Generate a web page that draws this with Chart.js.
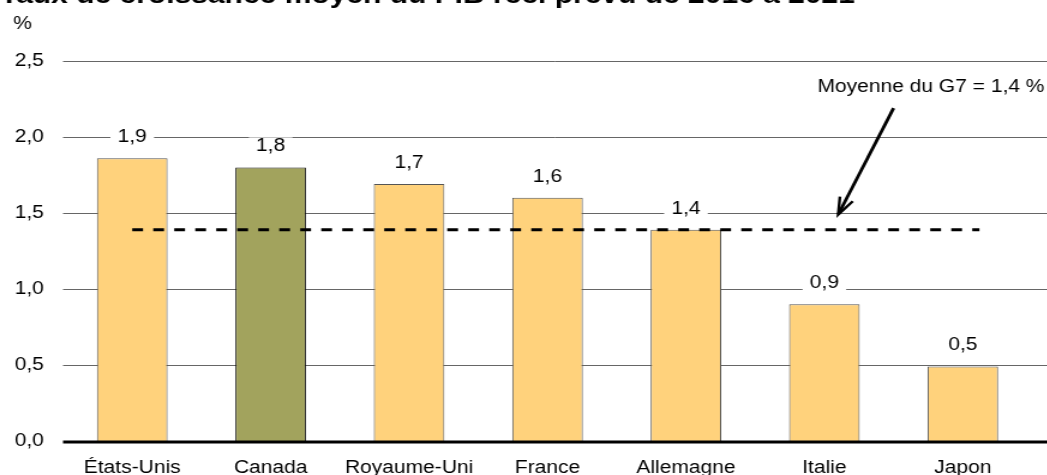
<!DOCTYPE html>
<html>
<head>
<meta charset="utf-8">
<script src="https://cdn.jsdelivr.net/npm/chart.js@4/dist/chart.umd.min.js"></script>
<style>
  html, body { margin: 0; padding: 0; background: #fff; overflow: hidden; }
  #wrap { position: absolute; left: 0; top: 0; width: 873px; height: 475px;
          transform: scaleX(1.2); transform-origin: 0 0; }
</style>
</head>
<body>
<div id="wrap"><canvas id="growthChart"></canvas></div>
<script>
  // data
  const categories = ['États-Unis', 'Canada', 'Royaume-Uni', 'France', 'Allemagne', 'Italie', 'Japon'];
  const growth = [1.86, 1.80, 1.69, 1.60, 1.39, 0.90, 0.49];
  const growthLabels = ['1,9', '1,8', '1,7', '1,6', '1,4', '0,9', '0,5'];
  const yTicks = [0, 0.5, 1.0, 1.5, 2.0, 2.5];
  const g7Average = 1.39;
  const g7Text = 'Moyenne du G7 = 1,4 %';
  const titleText = 'Taux de croissance moyen du PIB réel prévu de 2016 à 2021';
  const highlight = 'Canada';

  const FONT = '"Liberation Sans", Arial, sans-serif';
  const SIZE = 17.5;
  const yellow = '#FFD27C';
  const olive = '#A2A35D';

  const barColors = categories.map(c => c === highlight ? olive : yellow);
  const barBorders = categories.map(c => c === highlight ? '#111' : '#555');

  // position helper in data units (fractional category index)
  function catX(x, idx) {
    const w = x.getPixelForValue(1) - x.getPixelForValue(0);
    return x.getPixelForValue(Math.floor(idx)) + (idx - Math.floor(idx)) * w;
  }

  const decor = {
    id: 'decor',
    beforeDatasetsDraw(chart) {
      const { ctx, chartArea, scales: { y } } = chart;
      ctx.save();
      ctx.strokeStyle = '#666';
      ctx.lineWidth = 1;
      yTicks.forEach(v => {
        if (v === 0) return;
        const py = Math.round(y.getPixelForValue(v)) + 0.5;
        ctx.beginPath();
        ctx.moveTo(chartArea.left, py);
        ctx.lineTo(chart.width, py);
        ctx.stroke();
      });
      ctx.restore();
    },
    afterDatasetsDraw(chart) {
      const { ctx, chartArea, scales: { x, y } } = chart;
      ctx.save();

      // zero axis
      ctx.strokeStyle = '#000';
      ctx.lineWidth = 3;
      const y0 = y.getPixelForValue(0) + 1;
      ctx.beginPath();
      ctx.moveTo(chartArea.left, y0);
      ctx.lineTo(chart.width, y0);
      ctx.stroke();

      // G7 average dashed line
      const ya = y.getPixelForValue(g7Average);
      ctx.lineWidth = 3;
      ctx.setLineDash([9, 8.5]);
      ctx.beginPath();
      ctx.moveTo(catX(x, 0), ya);
      ctx.lineTo(catX(x, 6.12), ya);
      ctx.stroke();
      ctx.setLineDash([]);

      // value labels with white boxes
      ctx.font = SIZE + 'px ' + FONT;
      ctx.textAlign = 'center';
      ctx.textBaseline = 'middle';
      growth.forEach((v, i) => {
        const px = x.getPixelForValue(i);
        const py = y.getPixelForValue(v) - 21;
        const w = ctx.measureText(growthLabels[i]).width + 12;
        ctx.fillStyle = '#fff';
        ctx.fillRect(px - w / 2, py - 9, w, 18);
        ctx.fillStyle = '#000';
        ctx.fillText(growthLabels[i], px, py);
      });

      // annotation text and arrow
      ctx.fillText(g7Text, catX(x, 5.77), y.getPixelForValue(2.33));
      const tx = catX(x, 5.5), ty = y.getPixelForValue(2.19);
      const hx = catX(x, 5.1), hy = y.getPixelForValue(1.49);
      ctx.strokeStyle = '#000';
      ctx.lineWidth = 2.8;
      ctx.beginPath();
      ctx.moveTo(tx, ty);
      ctx.lineTo(hx, hy);
      ctx.stroke();
      const ang = Math.atan2(hy - ty, hx - tx);
      const len = 18, spread = 0.33;
      ctx.lineWidth = 2.4;
      ctx.beginPath();
      ctx.moveTo(hx - len * Math.cos(ang - spread), hy - len * Math.sin(ang - spread));
      ctx.lineTo(hx, hy);
      ctx.lineTo(hx - len * Math.cos(ang + spread), hy - len * Math.sin(ang + spread));
      ctx.stroke();

      // title (cut at top) and unit
      ctx.textAlign = 'left';
      ctx.textBaseline = 'alphabetic';
      ctx.font = 'bold 25px ' + FONT;
      ctx.fillText(titleText, 0, 3);
      ctx.font = SIZE + 'px ' + FONT;
      ctx.fillText('%', 11, 29);
      ctx.restore();
    }
  };

  const ctxEl = document.getElementById('growthChart');
  const growthChart = new Chart(ctxEl, {
    type: 'bar',
    data: {
      labels: categories,
      datasets: [{
        data: growth,
        backgroundColor: barColors,
        borderColor: barBorders,
        borderWidth: 1,
        barPercentage: 0.51,
        categoryPercentage: 1
      }]
    },
    options: {
      responsive: true,
      maintainAspectRatio: false,
      animation: false,
      layout: { padding: { top: 61, right: 13, left: 0, bottom: 0 } },
      plugins: {
        legend: { display: false },
        tooltip: { enabled: false },
        title: { display: false }
      },
      scales: {
        x: {
          grid: { display: false, drawTicks: false },
          border: { display: false },
          ticks: { color: '#000', font: { family: FONT, size: SIZE }, padding: 17, maxRotation: 0, autoSkip: false },
          afterFit(s) { s.height = 34; }
        },
        y: {
          min: 0,
          max: 2.5,
          grid: { display: false, drawTicks: false },
          border: { display: false },
          afterBuildTicks(s) { s.ticks = yTicks.map(v => ({ value: v })); },
          ticks: {
            color: '#000',
            font: { family: FONT, size: SIZE },
            padding: 16,
            callback: v => v.toFixed(1).replace('.', ',')
          },
          afterFit(s) { s.width = 52.5; }
        }
      }
    },
    plugins: [decor]
  });
</script>
</body>
</html>
